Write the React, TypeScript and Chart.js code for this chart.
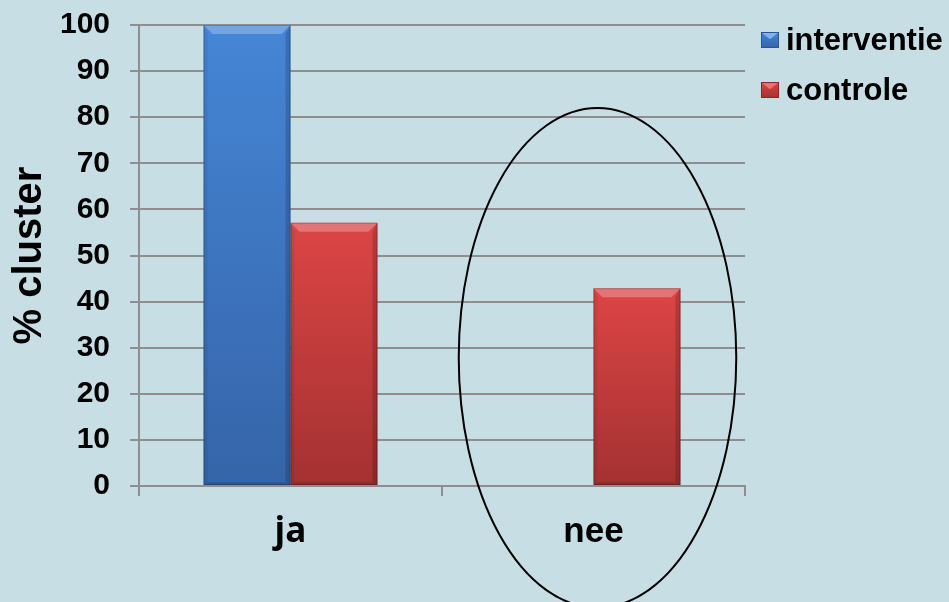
import { useEffect, useRef } from "react";
import { Chart, registerables } from "chart.js";

Chart.register(...registerables);

const categories = ["ja", "nee"];
const seriesNames = ["interventie", "controle"];
const interventieValues = [100, 0];
const controleValues = [57.1, 42.9];
const yMin = 0;
const yMax = 100;
const yStep = 10;
const yTitle = "% cluster";

const BG = "#c7dee5";
const GRID = "#8e8e8e";
const FONT = "'Liberation Sans', Arial, sans-serif";

const palettes = [
  { top: "#4586d6", bottom: "#3564a8", light: "#7db4ee", dark: "#2c5490" },
  { top: "#dc4545", bottom: "#a43131", light: "#f27070", dark: "#8a2626" },
];

function gradientFor(chart: any, dsIndex: number, value: number) {
  const p = palettes[dsIndex];
  const area = chart.chartArea;
  const ys = chart.scales.y;
  if (!area || !ys) return p.top;
  const top = ys.getPixelForValue(value);
  const bottom = ys.getPixelForValue(0);
  if (!isFinite(top) || !isFinite(bottom) || Math.abs(bottom - top) < 1) return p.top;
  const g = chart.ctx.createLinearGradient(0, top, 0, bottom);
  g.addColorStop(0, p.top);
  g.addColorStop(1, p.bottom);
  return g;
}

const bgPlugin = {
  id: "bgFill",
  beforeDraw(chart: any) {
    const { ctx, width, height } = chart;
    ctx.save();
    ctx.fillStyle = BG;
    ctx.fillRect(0, 0, width, height);
    ctx.restore();
  },
};

const bevelPlugin = {
  id: "bevel",
  afterDatasetsDraw(chart: any) {
    const ctx = chart.ctx;
    chart.data.datasets.forEach((_ds: any, di: number) => {
      const meta = chart.getDatasetMeta(di);
      meta.data.forEach((el: any) => {
        const { x, y, base, width } = el.getProps(["x", "y", "base", "width"], true);
        const h = base - y;
        if (h < 2) return;
        const l = x - width / 2;
        const r = x + width / 2;
        const b = Math.min(9, h / 3);
        ctx.save();
        ctx.fillStyle = "rgba(255,255,255,0.26)";
        ctx.beginPath();
        ctx.moveTo(l, y);
        ctx.lineTo(r, y);
        ctx.lineTo(r - b, y + b);
        ctx.lineTo(l + b, y + b);
        ctx.closePath();
        ctx.fill();
        ctx.fillStyle = "rgba(0,0,0,0.06)";
        ctx.beginPath();
        ctx.moveTo(l, y);
        ctx.lineTo(l + 4, y + b);
        ctx.lineTo(l + 4, base - 3);
        ctx.lineTo(l, base);
        ctx.closePath();
        ctx.fill();
        ctx.fillStyle = "rgba(0,0,0,0.16)";
        ctx.beginPath();
        ctx.moveTo(r, y);
        ctx.lineTo(r - 5, y + b);
        ctx.lineTo(r - 5, base - 3);
        ctx.lineTo(r, base);
        ctx.closePath();
        ctx.fill();
        ctx.fillStyle = "rgba(0,0,0,0.12)";
        ctx.beginPath();
        ctx.moveTo(l, base);
        ctx.lineTo(l + 4, base - 3);
        ctx.lineTo(r - 5, base - 3);
        ctx.lineTo(r, base);
        ctx.closePath();
        ctx.fill();
        ctx.strokeStyle = "rgba(0,0,0,0.22)";
        ctx.lineWidth = 1;
        ctx.strokeRect(l + 0.5, y + 0.5, width - 1, h - 1);
        ctx.restore();
      });
    });
  },
};

const ellipsePlugin = {
  id: "ellipseMark",
  afterDraw(chart: any) {
    const xs = chart.scales.x;
    const ys = chart.scales.y;
    const catW = xs.width / categories.length;
    const cx = xs.getPixelForValue(1) + 4;
    const cy = ys.getPixelForValue(27.8);
    const rx = catW * 0.458;
    const ry = (ys.bottom - ys.top) * 0.542;
    const ctx = chart.ctx;
    ctx.save();
    ctx.strokeStyle = "#000";
    ctx.lineWidth = 2;
    ctx.beginPath();
    ctx.ellipse(cx, cy, rx, ry, 0, 0, Math.PI * 2);
    ctx.stroke();
    ctx.restore();
  },
};

const legendPlugin = {
  id: "customLegend",
  afterDraw(chart: any) {
    const ctx = chart.ctx;
    const x0 = chart.chartArea.right + 16;
    const y0 = 40;
    const gap = 50;
    chart.data.datasets.forEach((ds: any, i: number) => {
      const p = palettes[i];
      const cy = y0 + i * gap;
      const bx = x0;
      const by = cy - 8;
      const bw = 18;
      const bh = 16;
      ctx.save();
      const g = ctx.createLinearGradient(0, by, 0, by + bh);
      g.addColorStop(0, p.top);
      g.addColorStop(1, p.bottom);
      ctx.fillStyle = g;
      ctx.fillRect(bx, by, bw, bh);
      ctx.fillStyle = p.light;
      ctx.beginPath();
      ctx.moveTo(bx, by);
      ctx.lineTo(bx + bw, by);
      ctx.lineTo(bx + bw / 2, by + bh * 0.45);
      ctx.closePath();
      ctx.fill();
      ctx.strokeStyle = p.dark;
      ctx.lineWidth = 1;
      ctx.strokeRect(bx + 0.5, by + 0.5, bw - 1, bh - 1);
      ctx.fillStyle = "#000";
      ctx.font = `bold 31px ${FONT}`;
      ctx.textAlign = "left";
      ctx.textBaseline = "middle";
      ctx.fillText(ds.label, bx + bw + 7, cy + 1);
      ctx.restore();
    });
  },
};

export default function App() {
  const ref = useRef<HTMLCanvasElement | null>(null);

  useEffect(() => {
    document.body.style.margin = "0";
    document.body.style.background = BG;
    const canvas = ref.current;
    if (!canvas) return;
    const chart = new Chart(canvas, {
      type: "bar",
      data: {
        labels: categories,
        datasets: [
          {
            label: seriesNames[0],
            data: interventieValues,
            backgroundColor: (c: any) => gradientFor(c.chart, 0, c.raw ?? 0),
            borderWidth: 0,
            categoryPercentage: 0.574,
            barPercentage: 1,
          },
          {
            label: seriesNames[1],
            data: controleValues,
            backgroundColor: (c: any) => gradientFor(c.chart, 1, c.raw ?? 0),
            borderWidth: 0,
            categoryPercentage: 0.574,
            barPercentage: 1,
          },
        ],
      },
      plugins: [bgPlugin, bevelPlugin, ellipsePlugin, legendPlugin],
      options: {
        animation: false,
        responsive: false,
        maintainAspectRatio: false,
        layout: { padding: { left: 0, right: 204, top: 25, bottom: 0 } },
        plugins: {
          legend: { display: false },
          tooltip: { enabled: false },
        },
        scales: {
          x: {
            grid: {
              display: true,
              drawOnChartArea: false,
              drawTicks: true,
              tickLength: 10,
              color: GRID,
              lineWidth: 2,
              offset: true,
            },
            border: { display: true, color: GRID, width: 2 },
            ticks: {
              color: "#000",
              padding: 15,
              font: (c: any) => ({
                family: c.index === 0 ? "'Open Sans', " + FONT : FONT,
                size: 35,
                weight: "bold",
              }),
            },
            afterFit: (s: any) => {
              s.height = 116;
              s.paddingLeft = 0;
              s.paddingRight = 0;
            },
          },
          y: {
            min: yMin,
            max: yMax,
            ticks: {
              stepSize: yStep,
              color: "#000",
              padding: 20,
              font: { family: FONT, size: 30, weight: "bold" },
            },
            grid: {
              color: GRID,
              lineWidth: 2,
              drawTicks: true,
              tickLength: 9,
            },
            border: { display: true, color: GRID, width: 2 },
            title: {
              display: true,
              text: yTitle,
              color: "#000",
              font: { family: FONT, size: 40, weight: "bold" },
              padding: { top: 6, bottom: 0 },
            },
            afterFit: (s: any) => {
              s.width = 139;
              s.paddingTop = 0;
              s.paddingBottom = 0;
            },
          },
        },
      } as any,
    });
    return () => chart.destroy();
  }, []);

  return (
    <div style={{ position: "absolute", left: 0, top: 0, width: 949, height: 602, background: BG }}>
      <canvas ref={ref} width={949} height={602} style={{ display: "block", width: 949, height: 602 }} />
    </div>
  );
}
